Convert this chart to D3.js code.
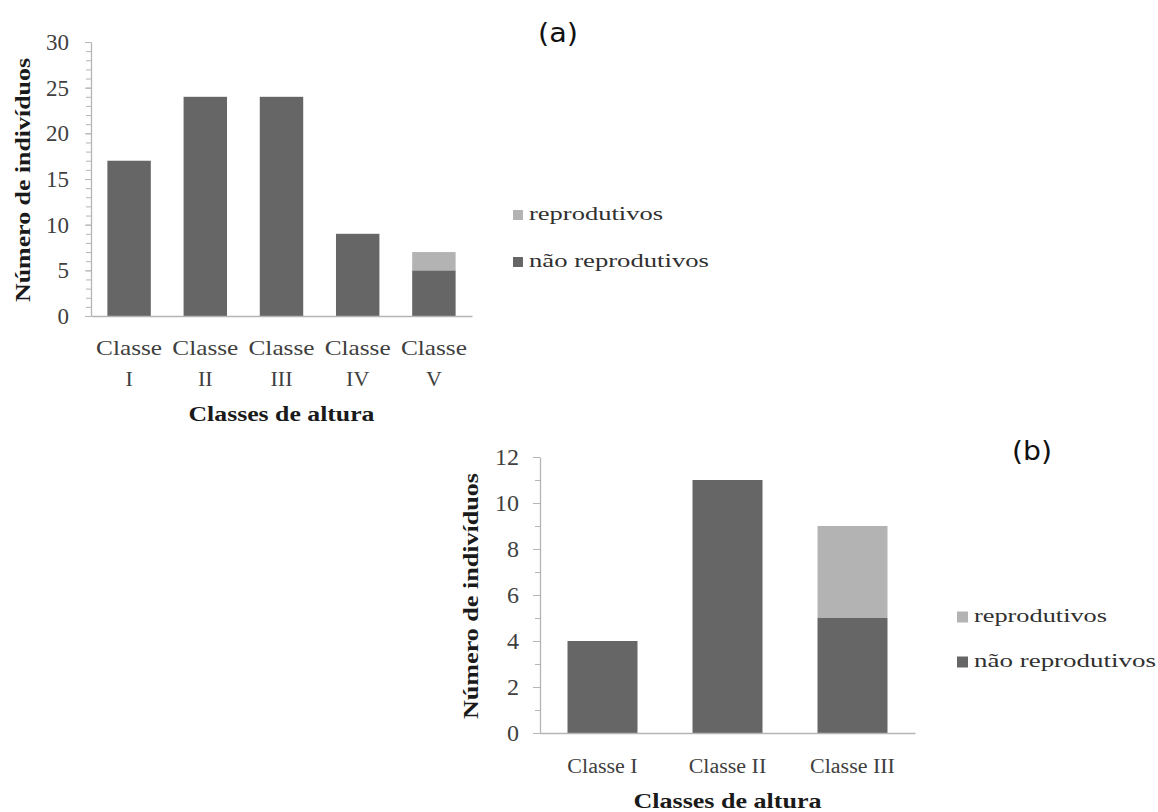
<!DOCTYPE html>
<html>
<head>
<meta charset="utf-8">
<script src="https://cdn.jsdelivr.net/npm/d3@7/dist/d3.min.js"></script>
<style>
  html, body { margin: 0; padding: 0; background: #ffffff; }
  svg { display: block; }
</style>
</head>
<body>
<svg id="chart" width="1158" height="812"></svg>
<script>
// ---------- DATA ----------
const categoriesA = ["Classe I", "Classe II", "Classe III", "Classe IV", "Classe V"];
const naoReprodutivosA = [17, 24, 24, 9, 5];
const reprodutivosA = [0, 0, 0, 0, 2];
const yTicksA = [0, 5, 10, 15, 20, 25, 30];

const categoriesB = ["Classe I", "Classe II", "Classe III"];
const naoReprodutivosB = [4, 11, 5];
const reprodutivosB = [0, 0, 4];
const yTicksB = [0, 2, 4, 6, 8, 10, 12];

const seriesNames = ["reprodutivos", "não reprodutivos"];
const yTitle = "Número de indivíduos";
const xTitle = "Classes de altura";

// ---------- STYLE ----------
const serif = "'Liberation Serif', 'Times New Roman', serif";
const sans = "'DejaVu Sans', Verdana, sans-serif";
const colDark = "#666666";
const colLight = "#b3b3b3";
const axisCol = "#b5b5b5";

const svg = d3.select("#chart");

function drawPanel(cfg) {
  const g = svg.append("g");
  const x = d3.scaleBand().domain(cfg.categories).range([cfg.x0, cfg.x1])
    .paddingInner(cfg.padIn).paddingOuter(cfg.padIn / 2);
  const y = d3.scaleLinear().domain([0, cfg.yMax]).range([cfg.y0, cfg.y1]);

  const rows = cfg.categories.map((c, i) => ({ cat: c, nr: cfg.nr[i], r: cfg.r[i] }));

  g.selectAll("rect.nr").data(rows).join("rect")
    .attr("x", d => x(d.cat)).attr("width", x.bandwidth())
    .attr("y", d => y(d.nr)).attr("height", d => y(0) - y(d.nr))
    .attr("fill", colDark);
  g.selectAll("rect.r").data(rows.filter(d => d.r > 0)).join("rect")
    .attr("x", d => x(d.cat)).attr("width", x.bandwidth())
    .attr("y", d => y(d.nr + d.r)).attr("height", d => y(d.nr) - y(d.nr + d.r))
    .attr("fill", colLight);

  const minorAxis = d3.axisLeft(y).tickValues(d3.range(0, cfg.yMax + 1, 1))
    .tickSize(cfg.minorTick).tickFormat("");
  const gm = g.append("g").attr("transform", `translate(${cfg.x0},0)`).call(minorAxis);
  gm.select(".domain").remove();
  gm.selectAll("line").attr("stroke", axisCol).attr("stroke-width", 1);

  const yAxis = d3.axisLeft(y).tickValues(cfg.yTicks).tickSize(cfg.majorTick)
    .tickPadding(cfg.tickPad).tickSizeOuter(0);
  const gy = g.append("g").attr("transform", `translate(${cfg.x0},0)`).call(yAxis);
  gy.select(".domain").attr("stroke", axisCol).attr("stroke-width", 1.3);
  gy.selectAll("line").attr("stroke", axisCol).attr("stroke-width", 1);
  gy.selectAll("text").style("font-family", serif)
    .style("font-size", cfg.tickFont + "px").attr("fill", "#404040");

  const xAxis = d3.axisBottom(x).tickSize(0).tickFormat("");
  const gx = g.append("g").attr("transform", `translate(0,${cfg.y0})`).call(xAxis);
  gx.select(".domain").attr("stroke", axisCol).attr("stroke-width", 1.5);

  cfg.categories.forEach(c => {
    const cx = x(c) + x.bandwidth() / 2;
    if (cfg.wrap) {
      const parts = c.split(" ");
      g.append("text").attr("x", cx).attr("y", cfg.xLabelY)
        .attr("text-anchor", "middle").style("font-family", serif)
        .style("font-size", cfg.xFont + "px").attr("fill", "#404040")
        .attr("textLength", cfg.classeLen).attr("lengthAdjust", "spacingAndGlyphs")
        .text(parts[0]);
      g.append("text").attr("x", cx).attr("y", cfg.xLabelY + cfg.lineGap)
        .attr("text-anchor", "middle").style("font-family", serif)
        .style("font-size", cfg.xFont + "px").attr("fill", "#404040")
        .text(parts[1]);
    } else {
      const t = g.append("text").attr("x", cx).attr("y", cfg.xLabelY)
        .attr("text-anchor", "middle").style("font-family", serif)
        .style("font-size", cfg.xFont + "px").attr("fill", "#404040")
        .text(c);
      const w = t.node().getComputedTextLength();
      t.attr("textLength", w * cfg.xStretch).attr("lengthAdjust", "spacingAndGlyphs");
    }
  });

  g.append("text").attr("x", (cfg.x0 + cfg.x1) / 2).attr("y", cfg.xTitleY)
    .attr("text-anchor", "middle").style("font-family", serif).style("font-weight", "bold")
    .style("font-size", cfg.titleFont + "px").attr("fill", "#1a1a1a")
    .attr("textLength", cfg.xTitleLen).attr("lengthAdjust", "spacingAndGlyphs")
    .text(xTitle);

  g.append("text")
    .attr("transform", `translate(${cfg.yTitleX},${cfg.yTitleCY}) rotate(-90)`)
    .attr("text-anchor", "middle").style("font-family", serif).style("font-weight", "bold")
    .style("font-size", cfg.titleFont + "px").attr("fill", "#1a1a1a")
    .attr("textLength", cfg.yTitleLen).attr("lengthAdjust", "spacingAndGlyphs")
    .text(yTitle);

  const legColors = [colLight, colDark];
  seriesNames.forEach((s, i) => {
    const ly = cfg.legY[i];
    g.append("rect").attr("x", cfg.legX).attr("y", ly - cfg.legSq / 2)
      .attr("width", cfg.legSq).attr("height", cfg.legSq).attr("fill", legColors[i]);
    g.append("text").attr("x", cfg.legX + cfg.legSq + 6).attr("y", ly + cfg.legFont * 0.3)
      .style("font-family", serif).style("font-size", cfg.legFont + "px").attr("fill", "#303030")
      .attr("textLength", cfg.legLen[i]).attr("lengthAdjust", "spacingAndGlyphs")
      .text(s);
  });

  g.append("text").attr("x", cfg.letterX).attr("y", cfg.letterY)
    .style("font-family", sans).style("font-size", cfg.letterFont + "px")
    .attr("fill", "#111").attr("textLength", 40).attr("lengthAdjust", "spacingAndGlyphs")
    .text(cfg.letter);
}

drawPanel({
  categories: categoriesA, nr: naoReprodutivosA, r: reprodutivosA, yTicks: yTicksA, yMax: 30,
  x0: 91, x1: 472, y0: 316, y1: 42, padIn: 0.43,
  majorTick: 6, minorTick: 5, tickPad: 16, tickFont: 23,
  wrap: true, xLabelY: 355, lineGap: 31, xFont: 22, classeLen: 66,
  xTitleY: 421, titleFont: 20, xTitleLen: 186,
  yTitleX: 30, yTitleCY: 180, yTitleLen: 244,
  legX: 513, legY: [215, 262], legSq: 10, legFont: 18, legLen: [134, 180],
  letter: "(a)", letterX: 538, letterY: 42, letterFont: 27
});

drawPanel({
  categories: categoriesB, nr: naoReprodutivosB, r: reprodutivosB, yTicks: yTicksB, yMax: 12,
  x0: 540, x1: 915, y0: 733, y1: 457, padIn: 0.44,
  majorTick: 7, minorTick: 5, tickPad: 14, tickFont: 24,
  wrap: false, xLabelY: 773, xFont: 20, xStretch: 1.1,
  xTitleY: 808, titleFont: 20, xTitleLen: 188,
  yTitleX: 478, yTitleCY: 596, yTitleLen: 246,
  legX: 957, legY: [617, 662], legSq: 11, legFont: 18, legLen: [133, 182],
  letter: "(b)", letterX: 1012, letterY: 460, letterFont: 27
});
</script>
</body>
</html>
